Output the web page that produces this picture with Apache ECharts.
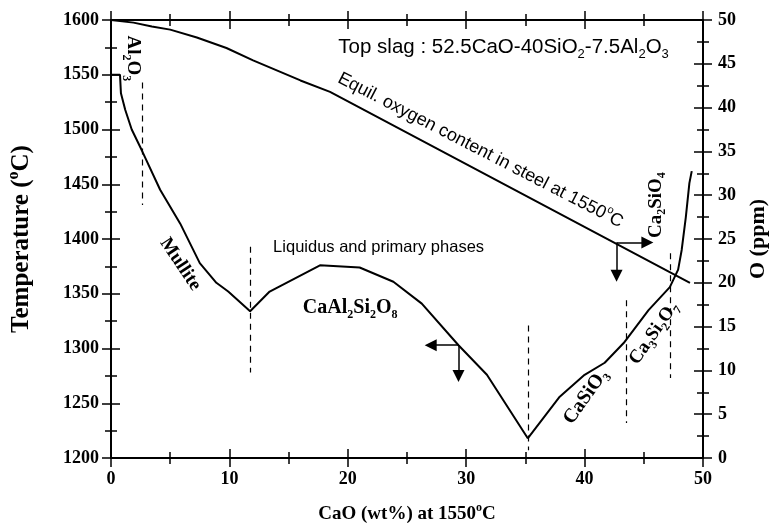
<!DOCTYPE html>
<html>
<head>
<meta charset="utf-8">
<script src="https://cdn.jsdelivr.net/npm/echarts@6/dist/echarts.min.js"></script>
<style>
  html, body { margin: 0; padding: 0; background: #fff; }
  #chart { width: 772px; height: 531px; }
</style>
</head>
<body>
<div id="chart"></div>
<script>
// --- data ---
// x axis: CaO (wt%), left axis: temperature (°C), right axis: O (ppm)
const xTicks = [0, 10, 20, 30, 40, 50];
const tempTicks = [1200, 1250, 1300, 1350, 1400, 1450, 1500, 1550, 1600];
const ppmTicks = [0, 5, 10, 15, 20, 25, 30, 35, 40, 45, 50];

// liquidus line
const liqCaO  = [0, 0.76, 0.84, 1.2, 1.75, 2.6, 4.15, 5.85, 7.5, 8.9, 9.9, 11.75, 13.4, 17.65, 21.0, 23.85, 26.25, 29.35, 31.75, 35.2, 37.9, 40.0, 41.7, 43.3, 45.4, 47.2, 47.9, 48.2, 48.55, 48.85, 49.05];
const liqTemp = [1550, 1550, 1533, 1518, 1500, 1481, 1445, 1414, 1378, 1360, 1352, 1334, 1352, 1376, 1374, 1361, 1341, 1303, 1276, 1218, 1256, 1276, 1287, 1305, 1335, 1356, 1372, 1390, 1420, 1451, 1462];

// equilibrium oxygen content in steel
const oxyCaO = [0, 1.9, 3.45, 5.0, 7.25, 9.75, 12.0, 16.0, 18.5, 48.9];
const oxyPpm = [50, 49.7, 49.25, 48.9, 48.0, 46.8, 45.4, 43.1, 41.8, 20.0];

// dashed phase boundaries
const boundaryCaO    = [2.6, 11.75, 35.2, 43.55, 47.2];
const boundaryTop    = [1543, 1393, 1321, 1344, 1387];
const boundaryBottom = [1431, 1278, 1207, 1232, 1273];

// arrows [x0, y0, x1, y1]
const liqArrows = [[29.35, 1303, 27.0, 1303], [29.35, 1303, 29.35, 1275]];
const oxyArrows = [[42.7, 24.6, 45.3, 24.6], [42.7, 24.6, 42.7, 20.8]];

// --- styles ---
const SERIF = 'Liberation Serif';
const SANS = 'Liberation Sans';
const INK = '#000';
const GRID = { left: 111, right: 69, top: 20, bottom: 73, outerBoundsMode: 'none' };

function subRich(size, family, weight) {
  const small = Math.round(size * 0.62);
  return {
    m: { fontSize: size, fontFamily: family, fontWeight: weight, color: INK, fill: INK, lineHeight: size + 6 },
    s: { fontSize: small, fontFamily: family, fontWeight: weight, color: INK, fill: INK, verticalAlign: 'bottom', lineHeight: small },
    u: { fontSize: small, fontFamily: family, fontWeight: weight, color: INK, fill: INK, verticalAlign: 'top', lineHeight: small }
  };
}

// grid 0 carries outward ticks + labels, grid 1 (same rect) carries inward ticks,
// so every tick crosses the frame like in the original plot
function axis(gridIndex, position, ticks, inside, showLabel) {
  return {
    type: 'value', gridIndex: gridIndex, position: position,
    min: ticks[0], max: ticks[ticks.length - 1], interval: ticks[1] - ticks[0],
    axisLine: { show: true, onZero: false, lineStyle: { color: INK, width: 2 } },
    axisTick: { show: true, inside: inside, length: 9, lineStyle: { color: INK, width: 1.5 } },
    minorTick: { show: true, splitNumber: 2, length: 6, lineStyle: { color: INK, width: 1.5 } },
    axisLabel: { show: showLabel, fontFamily: SERIF, fontWeight: 'bold', fontSize: 18, color: INK,
                 margin: position === 'right' ? 15 : 12, formatter: v => String(v) },
    splitLine: { show: false }
  };
}

const xMain = axis(0, 'bottom', xTicks, false, true);
xMain.name = '{m|CaO (wt%) at 1550}{u|o}{m|C}';
xMain.nameLocation = 'middle';
xMain.nameGap = 44;
xMain.nameTextStyle = { rich: subRich(19, SERIF, 'bold') };

const yLeft = axis(0, 'left', tempTicks, false, true);
yLeft.name = '{m|Temperature (}{u|o}{m|C)}';
yLeft.nameLocation = 'middle';
yLeft.nameRotate = 90;
yLeft.nameGap = 74;
yLeft.nameTextStyle = { rich: subRich(25, SERIF, 'bold') };

const yRight = axis(0, 'right', ppmTicks, false, true);
yRight.name = '{m|O (ppm)}';
yRight.nameLocation = 'middle';
yRight.nameRotate = 90;
yRight.nameGap = 41;
yRight.nameTextStyle = { rich: subRich(22, SERIF, 'bold') };

const chart = echarts.init(document.getElementById('chart'));

function zip(a, b) { return a.map((v, i) => [v, b[i]]); }

chart.setOption({
  animation: false,
  backgroundColor: '#fff',
  grid: [GRID, GRID],
  xAxis: [
    xMain,
    axis(0, 'top', xTicks, false, false),
    axis(1, 'bottom', xTicks, true, false),
    axis(1, 'top', xTicks, true, false)
  ],
  yAxis: [
    yLeft,
    yRight,
    axis(1, 'left', tempTicks, true, false),
    axis(1, 'right', ppmTicks, true, false)
  ],
  series: [
    {
      name: 'Liquidus', type: 'line', xAxisIndex: 0, yAxisIndex: 0,
      data: zip(liqCaO, liqTemp), symbol: 'none',
      lineStyle: { color: INK, width: 2 }
    },
    {
      name: 'Oxygen', type: 'line', xAxisIndex: 0, yAxisIndex: 1,
      data: zip(oxyCaO, oxyPpm), symbol: 'none',
      lineStyle: { color: INK, width: 2 }
    },
    {
      name: 'Boundaries', type: 'lines', coordinateSystem: 'cartesian2d', xAxisIndex: 0, yAxisIndex: 0,
      data: boundaryCaO.map((x, i) => ({ coords: [[x, boundaryTop[i]], [x, boundaryBottom[i]]] })),
      lineStyle: { color: INK, width: 1.2, type: [6, 5], opacity: 1 }
    },
    {
      name: 'LiqArrows', type: 'lines', coordinateSystem: 'cartesian2d', xAxisIndex: 0, yAxisIndex: 0,
      data: liqArrows.map(a => ({ coords: [[a[0], a[1]], [a[2], a[3]]] })),
      symbol: ['none', 'triangle'], symbolSize: [9, 12],
      lineStyle: { color: INK, width: 1.5, opacity: 1 }
    },
    {
      name: 'OxyArrows', type: 'lines', coordinateSystem: 'cartesian2d', xAxisIndex: 0, yAxisIndex: 1,
      data: oxyArrows.map(a => ({ coords: [[a[0], a[1]], [a[2], a[3]]] })),
      symbol: ['none', 'triangle'], symbolSize: [9, 12],
      lineStyle: { color: INK, width: 1.5, opacity: 1 }
    }
  ]
});

// text annotations placed in data space (CaO, °C)
function toPx(x, t) { return chart.convertToPixel({ xAxisIndex: 0, yAxisIndex: 0 }, [x, t]); }
function deg(d) { return d * Math.PI / 180; }

const notes = [
  { at: [19.2, 1575], text: '{m|Top slag : 52.5CaO-40SiO}{s|2}{m|-7.5Al}{s|2}{m|O}{s|3}', size: 20.5, family: SANS, weight: 'normal', rot: 0, align: 'left' },
  { at: [31.2, 1481], text: '{m|Equil. oxygen content in steel at 1550}{u|o}{m|C}', size: 18, family: SANS, weight: 'normal', rot: -27.3, align: 'center' },
  { at: [22.6, 1392.5], text: '{m|Liquidus and primary phases}', size: 16.5, family: SANS, weight: 'normal', rot: 0, align: 'center' },
  { at: [1.85, 1565], text: '{m|Al}{s|2}{m|O}{s|3}', size: 19, family: SERIF, weight: 'bold', rot: -90, align: 'center' },
  { at: [5.85, 1377], text: '{m|Mullite}', size: 19, family: SERIF, weight: 'bold', rot: -56, align: 'center' },
  { at: [20.2, 1337], text: '{m|CaAl}{s|2}{m|Si}{s|2}{m|O}{s|8}', size: 20, family: SERIF, weight: 'bold', rot: 0, align: 'center' },
  { at: [40.1, 1256], text: '{m|CaSiO}{s|3}', size: 20, family: SERIF, weight: 'bold', rot: 55, align: 'center' },
  { at: [45.85, 1314], text: '{m|Ca}{s|3}{m|Si}{s|2}{m|O}{s|7}', size: 19, family: SERIF, weight: 'bold', rot: 55, align: 'center' },
  { at: [46.0, 1431], text: '{m|Ca}{s|2}{m|SiO}{s|4}', size: 19, family: SERIF, weight: 'bold', rot: 90, align: 'center' }
];

chart.setOption({
  graphic: notes.map(n => {
    const p = toPx(n.at[0], n.at[1]);
    return {
      type: 'text', x: p[0], y: p[1], rotation: deg(n.rot), silent: true,
      style: {
        text: n.text, rich: subRich(n.size, n.family, n.weight),
        align: n.align, verticalAlign: 'middle', fill: INK
      }
    };
  })
});
</script>
</body>
</html>
